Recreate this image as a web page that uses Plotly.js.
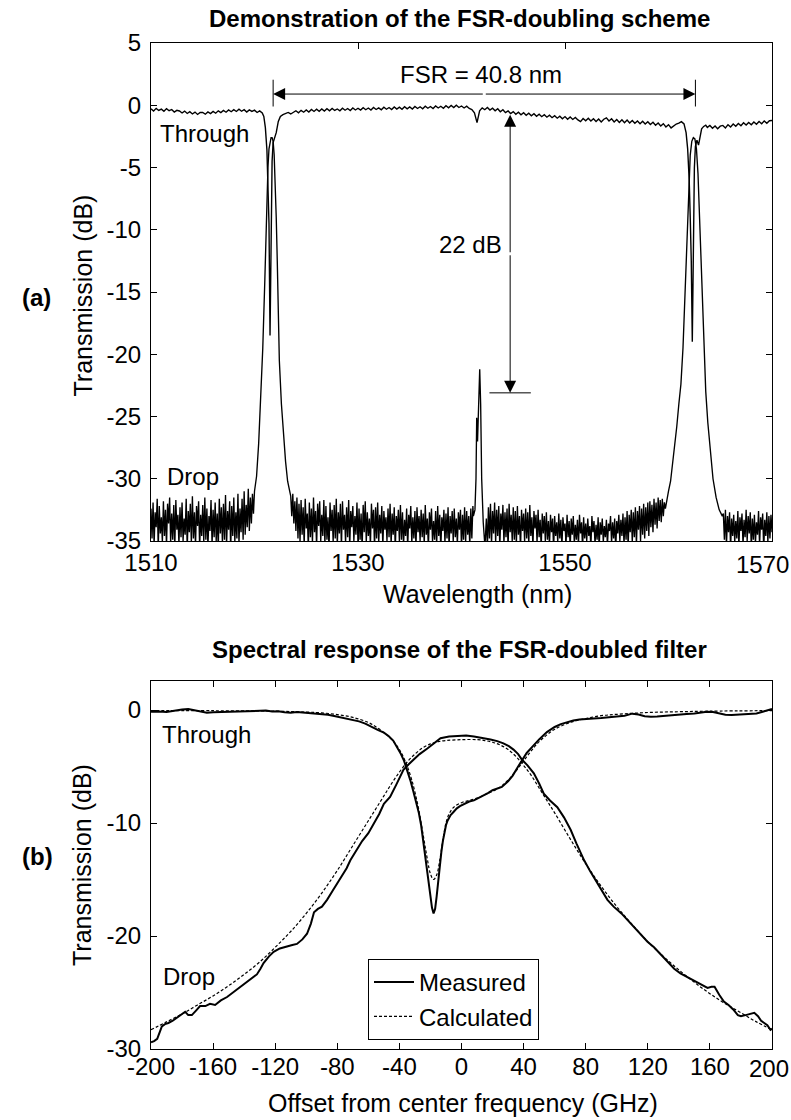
<!DOCTYPE html>
<html>
<head>
<meta charset="utf-8">
<script src="https://cdn.plot.ly/plotly-3.0.1.min.js"></script>
<style>html,body{margin:0;padding:0;background:#fff;}#chart{width:791px;height:1120px;}</style>
</head>
<body>
<div id="chart"></div>
<script>
// ---------------- DATA: panel (a) ----------------
// Through port (dB), 0.25 nm sampling in the flat regions
const throughA_start = 1510.0, throughA_step = 0.25;
const throughA = [-0.28,-0.46,-0.25,-0.42,-0.31,-0.49,-0.27,-0.44,-0.34,-0.55,-0.41,-0.46,-0.62,-0.47,-0.66,-0.52,-0.70,-0.55,-0.74,-0.58,-0.57,-0.72,-0.54,-0.67,-0.49,-0.64,-0.45,-0.59,-0.42,-0.56,-0.37,-0.52,-0.35,-0.50,-0.32,-0.48,-0.35,-0.54,-0.37,-0.49,-0.39,-0.58,-0.45,-0.62];
const throughNotch1_wl = [1520.9,1521.05,1521.2,1521.3,1521.4,1521.5,1521.6,1521.7,1521.8,1521.95,1522.1,1522.3,1522.5,1522.75,1523.0];
const throughNotch1_db = [-0.9,-1.8,-3.6,-6.0,-9.5,-18.5,-9.0,-4.5,-3.0,-2.6,-2.2,-1.3,-0.9,-0.75,-0.65];
const throughB_start = 1523.25, throughB_step = 0.25;
const throughB = [-0.58,-0.70,-0.56,-0.44,-0.60,-0.41,-0.56,-0.38,-0.54,-0.34,-0.50,-0.32,-0.48,-0.30,-0.46,-0.28,-0.44,-0.26,-0.42,-0.30,
-0.44,-0.24,-0.40,-0.26,-0.42,-0.22,-0.38,-0.24,-0.39,-0.20,-0.36,-0.22,-0.38,-0.18,-0.34,-0.21,-0.36,-0.16,-0.32,-0.18,
-0.34,-0.14,-0.31,-0.16,-0.32,-0.12,-0.29,-0.14,-0.30,-0.10,-0.26,-0.12,-0.28,-0.08,-0.24,-0.10,-0.26,-0.06,-0.22,-0.08,
-0.24,-0.04,-0.20,-0.02,-0.19,0.00,-0.18,-0.06,-0.22,-0.08,-0.26,-0.34,-0.60,-1.40,-0.45,-0.21,-0.36,-0.18,-0.39,-0.24,
-0.44,-0.28,-0.52,-0.36,-0.59,-0.46,-0.66,-0.51,-0.72,-0.56,-0.76,-0.60,-0.80,-0.64,-0.84,-0.68,-0.88,-0.72,-0.92,-0.76,
-0.96,-0.80,-1.00,-0.84,-1.04,-0.88,-1.08,-0.91,-1.12,-0.94,-1.14,-0.98,-1.18,-1.32,-1.06,-1.24,-1.04,-1.26,-1.08,-1.30,
-1.10,-1.34,-1.12,-1.01,-1.26,-1.08,-1.34,-1.14,-1.38,-1.16,-1.40,-1.18,-1.42,-1.22,-1.44,-1.26,-1.48,-1.28,-1.50,-1.32,
-1.54,-1.36,-1.60,-1.42,-1.66,-1.48,-1.74,-1.56,-1.82,-1.64,-1.51,-1.44,-1.32];
const throughNotch2_wl = [1561.5,1561.7,1561.85,1562.0,1562.1,1562.2,1562.3,1562.4,1562.5,1562.6,1562.75,1562.9,1563.05,1563.2,1563.4,1563.6];
const throughNotch2_db = [-1.5,-2.2,-3.5,-6.0,-9.0,-12.5,-19.0,-9.5,-5.0,-3.3,-2.8,-3.2,-2.4,-1.9,-1.7,-1.6];
const throughC_start = 1563.75, throughC_step = 0.25;
const throughC = [-1.78,-1.62,-1.84,-1.66,-1.88,-1.68,-1.62,-1.82,-1.56,-1.74,-1.51,-1.69,-1.46,-1.64,-1.41,-1.59,-1.38,-1.56,-1.34,-1.52,-1.31,-1.48,-1.26,-1.44,-1.24,-1.22];

// Drop port (dB), 0.1 nm sampling in the noise floor
const dropA_start = 1510.0, dropA_step = 0.1;
const dropA = [-32.4,-34.8,-31.9,-35.3,-32.7,-33.9,-31.6,-35.6,-32.2,-34.4,
-33.1,-35.1,-31.8,-34.6,-32.5,-35.4,-32.0,-33.6,-31.5,-35.2,
-32.8,-34.9,-32.1,-35.5,-31.7,-34.1,-32.9,-35.3,-32.3,-34.7,
-31.9,-35.0,-33.2,-34.5,-31.6,-35.7,-32.6,-34.3,-32.0,-35.2,
-31.4,-34.8,-32.7,-35.4,-32.2,-33.8,-31.8,-35.6,-32.9,-34.6,
-32.1,-35.1,-31.5,-34.9,-32.4,-35.5,-33.0,-34.2,-31.7,-35.3,
-32.5,-34.7,-31.9,-35.0,-32.8,-35.6,-31.6,-34.4,-32.3,-35.2,
-32.0,-34.9,-31.3,-35.4,-32.6,-34.1,-31.8,-35.7,-32.2,-34.6,
-31.5,-35.1,-32.7,-34.8,-31.2,-35.3,-32.4,-34.3,-31.6,-34.9,
-31.0,-34.5,-32.1,-33.9,-30.8,-34.2,-31.5,-33.6,-31.2,-32.8];
const dropPeak1_wl = [1520.0,1520.2,1520.4,1520.6,1520.8,1521.0,1521.1,1521.2,1521.3,1521.4,1521.5,1521.6,1521.7,1521.8,1521.9,1522.0,1522.1,1522.2,1522.4,1522.6,1522.8,1523.0,1523.2,1523.4];
const dropPeak1_db = [-31.0,-29.8,-27.2,-23.5,-19.5,-14.0,-10.5,-7.5,-5.0,-3.5,-2.8,-2.6,-2.6,-2.9,-4.0,-6.0,-9.0,-12.5,-20.5,-24.0,-26.8,-28.6,-30.2,-31.2];
const dropB_start = 1523.5, dropB_step = 0.1;
const dropB = [-31.4,-33.0,-31.2,-33.6,-31.8,-34.2,-31.5,-34.8,-32.0,-35.1,
-31.7,-34.5,-32.3,-35.4,-31.6,-34.0,-32.8,-35.6,-31.9,-34.7,
-32.4,-35.2,-31.5,-34.3,-32.6,-35.5,-32.0,-33.8,-31.8,-35.0,
-32.9,-34.6,-31.7,-35.3,-32.2,-34.9,-33.1,-35.7,-31.9,-34.2,
-32.5,-35.1,-32.1,-34.8,-31.6,-35.4,-32.7,-34.4,-32.0,-35.6,
-31.8,-34.1,-32.9,-35.2,-32.3,-34.7,-31.7,-35.5,-32.6,-33.9,
-32.2,-35.0,-33.0,-34.5,-31.9,-35.3,-32.4,-34.9,-32.8,-35.7,
-32.1,-34.3,-31.8,-35.1,-32.7,-34.6,-33.2,-35.4,-32.0,-34.0,
-32.5,-35.6,-32.3,-34.8,-31.9,-35.2,-32.9,-34.4,-32.2,-35.5,
-32.6,-34.1,-33.1,-35.0,-32.4,-34.7,-32.0,-35.3,-32.8,-34.5,
-32.3,-35.7,-33.0,-34.2,-32.5,-35.1,-32.1,-34.9,-32.7,-35.4,
-33.3,-34.6,-32.4,-35.6,-32.9,-34.0,-32.2,-35.2,-33.1,-34.8,
-32.6,-35.5,-32.3,-34.3,-33.0,-35.0,-32.5,-34.7,-32.8,-35.3,
-32.1,-34.5,-33.2,-35.6,-32.7,-34.1,-32.4,-35.1,-33.4,-34.9,
-32.6,-35.4,-32.2,-34.6,-32.9,-35.7,-33.1,-34.2,-32.5,-35.2,
-32.8,-34.8,-32.3,-35.5,-33.0,-34.4,-32.6,-35.0,-32.4,-34.7,
-33.2,-35.3,-32.7,-34.1,-32.5,-35.6,-32.9,-34.9,-32.3,-35.1,
-32.6,-34.5,-33.0,-35.4,-32.4,-34.8,-32.2];
const dropPeak3_wl = [1541.15,1541.3,1541.4,1541.47,1541.55,1541.65,1541.76,1541.85,1541.95,1542.1,1542.25];
const dropPeak3_db = [-33.0,-32.5,-30.0,-25.1,-27.0,-24.0,-21.2,-24.0,-30.0,-33.5,-35.3];
const dropC_start = 1542.3, dropC_step = 0.1;
const dropC = [-34.9,-33.2,-35.6,-32.3,-34.8,-32.0,-35.3,-32.6,-34.4,-31.9,
-35.1,-32.5,-34.6,-32.2,-35.5,-32.8,-34.1,-32.1,-35.2,-32.7,
-34.7,-32.4,-35.6,-32.0,-34.3,-32.9,-35.0,-32.3,-34.9,-32.6,
-35.4,-32.2,-34.5,-33.0,-35.7,-32.5,-34.2,-32.8,-35.1,-32.4,
-34.8,-32.7,-35.3,-32.1,-34.6,-33.1,-35.5,-32.6,-34.0,-32.9,
-35.2,-32.5,-34.7,-33.3,-35.6,-32.8,-34.4,-33.0,-35.0,-32.7,
-34.9,-33.4,-35.4,-32.9,-34.3,-33.2,-35.7,-33.0,-34.6,-33.5,
-35.1,-32.8,-34.8,-33.3,-35.5,-33.1,-34.2,-33.6,-35.3,-32.9,
-34.7,-33.4,-35.6,-33.2,-34.5,-33.0,-35.2,-33.7,-34.9,-33.3,
-35.4,-32.9,-34.4,-33.5,-35.7,-33.1,-34.8,-33.6,-35.0,-33.2,
-34.6,-33.8,-35.5,-33.0,-34.3,-33.4,-35.3,-33.7,-34.9,-33.1,
-35.6,-33.5,-34.5,-33.2,-35.1,-33.8,-34.7,-33.3,-35.4,-33.6,
-34.2,-33.0,-35.2,-33.5,-34.8,-33.2,-35.7,-33.4,-34.4,-32.9,
-35.0,-33.3,-34.6,-32.8,-35.3,-33.1,-34.9,-32.6,-35.5,-32.9,
-34.3,-32.5,-35.1,-32.7,-34.7,-32.3,-35.4,-32.6,-34.1,-32.2,
-35.0,-32.4,-34.5,-32.0,-34.8,-32.3,-34.2,-31.9,-34.6,-31.8,
-33.9,-32.1,-34.3,-31.6,-33.7,-31.9,-34.0,-31.5,-33.4,-31.7,
-33.5,-31.6,-33.0,-31.9,-32.4];
const dropPeak2_wl = [1559.8,1560.0,1560.2,1560.4,1560.6,1560.8,1561.0,1561.2,1561.4,1561.6,1561.8,1561.95,1562.1,1562.25,1562.4,1562.55,1562.7,1562.85,1563.0,1563.2,1563.4,1563.6,1563.8,1564.0,1564.3,1564.6,1564.9,1565.2];
const dropPeak2_db = [-31.8,-31.0,-30.2,-28.8,-27.4,-25.8,-24.0,-22.4,-19.5,-15.0,-10.0,-6.5,-4.0,-2.9,-2.6,-2.7,-3.5,-5.5,-9.0,-14.0,-19.5,-23.0,-25.5,-27.5,-30.0,-31.5,-32.5,-33.0];
const dropD_start = 1565.3, dropD_step = 0.1;
const dropD = [-32.8,-34.9,-32.5,-35.4,-33.0,-34.3,-32.7,-35.6,-33.2,-34.6,
-32.9,-35.1,-33.4,-34.8,-32.6,-35.5,-33.1,-34.2,-32.8,-35.3,
-33.3,-34.7,-32.5,-35.0,-33.0,-34.4,-32.7,-35.6,-33.2,-34.9,
-32.9,-35.2,-33.5,-34.5,-32.6,-35.4,-33.1,-34.1,-32.8,-35.7,
-33.3,-34.6,-32.7,-35.1,-33.0,-34.8,-32.9,-34.3];

// Panel (a) annotations (data units)
const fsrLeft = 1521.8, fsrRight = 1562.6, fsrLevel = 0.9, fsrText = 'FSR = 40.8 nm';
const extWl = 1544.7, extTop = -0.76, extBottom = -23.1, extText = '22 dB';

// ---------------- DATA: panel (b) ----------------
const measThrough_f = [-200,-195,-190,-185,-180,-176,-172,-168,-164,-160,-155,-150,-145,-140,-135,-130,-126,-122,-118,-114,-110,-106,-102,-98,-94,-90,-86,-82,-78,-74,-70,-66,-62,-58,-54,-50,-47,-44,-41.5,-39,-37,-35,-33,-31,-29.5,-27.5,-26,-24.5,-23,-21.5,-20,-19,-18,-17,-16,-15,-14,-13,-12,-11,-10,-9,-7,-5,-3,-1,2,5,8,11,14,17,20,23,26,30,33,36,39,42,46,50,55,60,64,68,72,76,80,85,90,95,100,105,110,114,118,122,126,130,135,140,145,150,155,158,162,166,170,174,178,182,186,190,194,197,200];
const measThrough_db = [-0.15,-0.12,-0.18,-0.05,0.05,0.08,-0.02,-0.15,-0.24,-0.20,-0.18,-0.15,-0.16,-0.12,-0.14,-0.08,-0.05,-0.12,-0.10,-0.20,-0.24,-0.18,-0.22,-0.26,-0.30,-0.32,-0.42,-0.52,-0.65,-0.78,-0.88,-1.00,-1.20,-1.50,-1.75,-2.00,-2.30,-2.70,-3.25,-3.90,-4.50,-5.30,-6.20,-7.20,-8.00,-9.10,-10.2,-11.8,-13.3,-15.0,-16.5,-17.5,-18.0,-17.6,-16.5,-15.0,-13.8,-12.6,-11.6,-10.8,-10.2,-9.8,-9.3,-9.0,-8.7,-8.5,-8.3,-8.1,-8.0,-7.8,-7.6,-7.35,-7.1,-6.95,-6.8,-6.3,-5.8,-5.1,-4.4,-3.8,-3.2,-2.6,-1.95,-1.5,-1.25,-1.05,-0.92,-0.84,-0.78,-0.74,-0.70,-0.62,-0.55,-0.50,-0.32,-0.40,-0.55,-0.60,-0.58,-0.52,-0.48,-0.42,-0.35,-0.30,-0.22,-0.15,-0.18,-0.30,-0.42,-0.45,-0.40,-0.36,-0.36,-0.30,-0.15,-0.05,0.10];
const calcThrough_f = [-200,-160,-120,-100,-90,-80,-70,-60,-55,-50,-45,-40,-36,-32,-28,-25,-22,-20,-18,-16,-14,-12,-10,-8,-5,0,5,10,15,20,25,30,35,40,45,50,55,60,70,80,90,100,120,140,160,200];
const calcThrough_db = [-0.05,-0.06,-0.10,-0.18,-0.25,-0.40,-0.65,-1.10,-1.50,-2.00,-2.60,-3.50,-4.60,-6.20,-8.50,-10.8,-13.2,-14.5,-15.0,-14.6,-13.3,-11.5,-10.0,-9.2,-8.6,-8.2,-8.0,-7.8,-7.5,-7.2,-6.8,-6.2,-5.4,-4.5,-3.6,-2.8,-2.2,-1.7,-1.1,-0.75,-0.50,-0.38,-0.22,-0.15,-0.10,-0.05];
const measDrop_f = [-200,-198,-196,-194.5,-193,-191,-188.8,-186,-183,-180,-178,-176,-173.7,-171,-168.4,-165,-162,-158.7,-155,-151,-147,-142.6,-138,-134,-131.8,-129.5,-127.5,-124,-121,-117,-112.4,-109,-106,-102.5,-99.5,-97,-95,-92.5,-89.9,-86.6,-83,-80,-77,-74,-71.6,-68,-64,-60,-57,-53,-50,-46,-42,-39,-37.4,-34,-31,-27,-22,-18,-13.5,-8,-2.8,3,8,13,18.7,23,27,30.5,33.5,36.5,39,42.5,46.6,50,53,57,61.7,66,70.3,74,79,83,87,90.5,94,98,103,107,111,115.5,119.8,124,128,132.7,137,141,145,149.7,154,158.5,161,163,166,169,172,175,178,180,183,186,188.6,191,193,195,197,199,200];
const measDrop_db = [-29.4,-29.3,-29.1,-28.6,-28.0,-27.8,-27.7,-27.5,-27.2,-26.9,-26.7,-27.0,-27.0,-26.6,-26.2,-26.2,-26.0,-26.1,-25.7,-25.4,-25.0,-24.5,-24.1,-23.7,-23.4,-22.9,-22.4,-21.8,-21.4,-21.1,-20.9,-20.8,-20.7,-20.3,-19.8,-18.9,-17.9,-17.6,-17.4,-16.8,-16.0,-15.3,-14.6,-14.0,-13.3,-12.5,-11.6,-10.9,-10.2,-9.2,-8.3,-7.7,-6.6,-5.8,-5.3,-4.8,-4.4,-3.9,-3.4,-2.95,-2.5,-2.35,-2.3,-2.25,-2.35,-2.45,-2.6,-2.75,-2.95,-3.2,-3.5,-3.9,-4.4,-4.9,-5.6,-6.5,-7.4,-8.0,-8.6,-9.5,-10.6,-11.8,-13.3,-14.3,-15.2,-16.0,-16.8,-17.4,-18.0,-18.6,-19.2,-19.9,-20.5,-21.0,-21.6,-22.3,-22.9,-23.3,-23.6,-24.0,-24.3,-24.6,-24.5,-24.5,-25.2,-25.8,-26.1,-26.5,-27.0,-27.1,-27.0,-26.9,-26.8,-27.1,-27.5,-27.7,-27.9,-28.3,-28.2];
const calcDrop_f = [-200,-190,-180,-170,-160,-150,-140,-130,-120,-110,-100,-90,-80,-70,-60,-50,-45,-40,-35,-30,-25,-20,-15,-10,0,10,15,20,25,30,35,40,45,50,55,60,70,80,90,100,110,120,130,140,150,160,170,180,190,200];
const calcDrop_db = [-28.3,-27.6,-26.9,-26.1,-25.3,-24.4,-23.4,-22.3,-21.0,-19.6,-18.0,-16.2,-14.2,-12.0,-9.8,-7.6,-6.5,-5.5,-4.6,-3.9,-3.35,-3.0,-2.8,-2.7,-2.62,-2.62,-2.7,-2.85,-3.1,-3.5,-4.1,-4.9,-5.8,-6.9,-8.0,-9.1,-11.4,-13.6,-15.6,-17.4,-19.0,-20.5,-21.8,-23.0,-24.1,-25.1,-26.0,-26.8,-27.6,-28.3];

// Tick labels
const xTicksA = [1510,1530,1550,1570];
const yTicksA = [5,0,-5,-10,-15,-20,-25,-30,-35];
const xTicksB = [-200,-160,-120,-80,-40,0,40,80,120,160,200];
const yTicksB = [0,-10,-20,-30];
const label = v => String(v); // plain hyphen-minus, as in the original
// The last label of each x axis is set flush with the figure's right edge (as in the original),
// so it is written as a right-anchored text instead of a centred tick label.
const lastA = xTicksA[xTicksA.length - 1], lastB = xTicksB[xTicksB.length - 1];
const xLabelsA = xTicksA.map(v => v === lastA ? '' : label(v));
const xLabelsB = xTicksB.map(v => v === lastB ? '' : label(v));

// ---------------- BUILD ----------------
function grid(start, step, vals) { return vals.map((_, i) => +(start + i * step).toFixed(3)); }
const thX = [].concat(grid(throughA_start, throughA_step, throughA), throughNotch1_wl, grid(throughB_start, throughB_step, throughB), throughNotch2_wl, grid(throughC_start, throughC_step, throughC));
const thY = [].concat(throughA, throughNotch1_db, throughB, throughNotch2_db, throughC);
const drX = [].concat(grid(dropA_start, dropA_step, dropA), dropPeak1_wl, grid(dropB_start, dropB_step, dropB), dropPeak3_wl, grid(dropC_start, dropC_step, dropC), dropPeak2_wl, grid(dropD_start, dropD_step, dropD));
const drY = [].concat(dropA, dropPeak1_db, dropB, dropPeak3_db, dropC, dropPeak2_db, dropD);

const FONT = 'Liberation Sans, Arial, Helvetica, sans-serif';
const FS = 24, FT = 25;
const K = '#000';

const traces = [
  {x: thX, y: thY, xaxis: 'x', yaxis: 'y', mode: 'lines', line: {color: K, width: 1.4}, showlegend: false, hoverinfo: 'skip'},
  {x: drX, y: drY, xaxis: 'x', yaxis: 'y', mode: 'lines', line: {color: K, width: 1.35}, showlegend: false, hoverinfo: 'skip'},
  {x: calcThrough_f, y: calcThrough_db, xaxis: 'x2', yaxis: 'y2', mode: 'lines', name: 'Calculated', legendrank: 2, line: {color: K, width: 1.2, dash: '3px,2px', shape: 'spline'}},
  {x: calcDrop_f, y: calcDrop_db, xaxis: 'x2', yaxis: 'y2', mode: 'lines', showlegend: false, line: {color: K, width: 1.2, dash: '3px,2px', shape: 'spline'}},
  {x: measThrough_f, y: measThrough_db, xaxis: 'x2', yaxis: 'y2', mode: 'lines', name: 'Measured', legendrank: 1, line: {color: K, width: 2}},
  {x: measDrop_f, y: measDrop_db, xaxis: 'x2', yaxis: 'y2', mode: 'lines', showlegend: false, line: {color: K, width: 2}}
];

const W = 791, H = 1120;
const px = v => v / W, py = v => 1 - v / H;
const axisCommon = {showline: true, linecolor: K, linewidth: 1, mirror: 'ticks', ticks: 'inside', ticklen: 6, tickcolor: K, tickwidth: 1, showgrid: false, zeroline: false, tickfont: {family: FONT, size: FS, color: K}, tickmode: 'array', fixedrange: true};

const layout = {
  width: W, height: H,
  margin: {l: 0, r: 0, t: 0, b: 0},
  paper_bgcolor: '#fff', plot_bgcolor: '#fff',
  font: {family: FONT, size: FS, color: K},
  showlegend: true,
  legend: {x: px(368), y: py(999.5), xanchor: 'left', yanchor: 'middle', bordercolor: K, borderwidth: 1, bgcolor: '#fff', font: {family: FONT, size: FS, color: K}, traceorder: 'normal', tracegroupgap: 0, itemwidth: 40},
  xaxis: Object.assign({}, axisCommon, {domain: [px(151), px(772)], range: [1510, 1570], anchor: 'y', tickvals: xTicksA, ticktext: xLabelsA, ticklabelstandoff: 1.5}),
  yaxis: Object.assign({}, axisCommon, {domain: [py(541), py(43)], range: [-35, 5], anchor: 'x', tickvals: yTicksA, ticktext: yTicksA.map(label), ticklabelstandoff: 4}),
  xaxis2: Object.assign({}, axisCommon, {domain: [px(151), px(772)], range: [-200, 200], anchor: 'y2', tickvals: xTicksB, ticktext: xLabelsB, ticklabelstandoff: -4}),
  yaxis2: Object.assign({}, axisCommon, {domain: [py(1049), py(681)], range: [-30, 2.57], anchor: 'x2', tickvals: yTicksB, ticktext: yTicksB.map(label), ticklabelstandoff: 4}),
  shapes: [
    {type: 'line', xref: 'x', yref: 'y', x0: fsrLeft, x1: fsrLeft, y0: -0.1, y1: 2.05, line: {color: K, width: 1}},
    {type: 'line', xref: 'x', yref: 'y', x0: fsrRight, x1: fsrRight, y0: -0.1, y1: 2.05, line: {color: K, width: 1}},
    {type: 'line', xref: 'x', yref: 'y', x0: extWl - 2.0, x1: extWl + 2.0, y0: extBottom, y1: extBottom, line: {color: K, width: 1}}
  ],
  annotations: [
    // titles
    {xref: 'paper', yref: 'paper', x: px(459), y: py(18.5), text: '<b>Demonstration of the FSR-doubling scheme</b>', showarrow: false, xanchor: 'center', yanchor: 'middle', font: {family: FONT, size: FS, color: K}},
    {xref: 'paper', yref: 'paper', x: px(459), y: py(649.5), text: '<b>Spectral response of the FSR-doubled filter</b>', showarrow: false, xanchor: 'center', yanchor: 'middle', font: {family: FONT, size: FS, color: K}},
    // axis titles
    {xref: 'paper', yref: 'paper', x: px(477), y: py(594.5), text: 'Wavelength (nm)', showarrow: false, xanchor: 'center', yanchor: 'middle', font: {family: FONT, size: FT, color: K}},
    {xref: 'paper', yref: 'paper', x: px(463), y: py(1103), text: 'Offset from center frequency (GHz)', showarrow: false, xanchor: 'center', yanchor: 'middle', font: {family: FONT, size: FT, color: K}},
    {xref: 'paper', yref: 'paper', x: px(82), y: py(295.5), text: 'Transmission (dB)', textangle: -90, showarrow: false, xanchor: 'center', yanchor: 'middle', font: {family: FONT, size: FT, color: K}},
    {xref: 'paper', yref: 'paper', x: px(82), y: py(865), text: 'Transmission (dB)', textangle: -90, showarrow: false, xanchor: 'center', yanchor: 'middle', font: {family: FONT, size: FT, color: K}},
    // last x tick labels, flush right
    {xref: 'paper', yref: 'paper', x: px(790), y: py(564), text: label(lastA), showarrow: false, xanchor: 'right', yanchor: 'middle', borderpad: 0},
    {xref: 'paper', yref: 'paper', x: px(790), y: py(1068.5), text: label(lastB), showarrow: false, xanchor: 'right', yanchor: 'middle', borderpad: 0},
    // panel labels
    {xref: 'paper', yref: 'paper', x: px(20), y: py(297), text: '<b>(a)</b>', showarrow: false, xanchor: 'left', yanchor: 'middle'},
    {xref: 'paper', yref: 'paper', x: px(20), y: py(857), text: '<b>(b)</b>', showarrow: false, xanchor: 'left', yanchor: 'middle'},
    // in-plot labels (a)
    {xref: 'x', yref: 'y', x: 1510.7, y: -2.23, text: 'Through', showarrow: false, xanchor: 'left', yanchor: 'middle'},
    {xref: 'x', yref: 'y', x: 1511.4, y: -29.82, text: 'Drop', showarrow: false, xanchor: 'left', yanchor: 'middle'},
    {xref: 'x', yref: 'y', x: (fsrLeft + fsrRight) / 2 - 0.3, y: 2.5, text: fsrText, showarrow: false, xanchor: 'center', yanchor: 'middle'},
    {xref: 'x', yref: 'y', x: 1544.1, y: -11.17, text: extText, showarrow: false, xanchor: 'right', yanchor: 'middle'},
    // arrows (a)
    {xref: 'x', yref: 'y', axref: 'x', ayref: 'y', x: fsrLeft, y: fsrLevel, ax: (fsrLeft + fsrRight) / 2, ay: fsrLevel, text: '', showarrow: true, arrowhead: 2, arrowsize: 2.4, arrowwidth: 1, arrowcolor: K},
    {xref: 'x', yref: 'y', axref: 'x', ayref: 'y', x: fsrRight, y: fsrLevel, ax: (fsrLeft + fsrRight) / 2, ay: fsrLevel, text: '', showarrow: true, arrowhead: 2, arrowsize: 2.4, arrowwidth: 1, arrowcolor: K},
    {xref: 'x', yref: 'y', axref: 'x', ayref: 'y', x: extWl, y: extTop, ax: extWl, ay: (extTop + extBottom) / 2, text: '', showarrow: true, arrowhead: 2, arrowsize: 2.4, arrowwidth: 1, arrowcolor: K},
    {xref: 'x', yref: 'y', axref: 'x', ayref: 'y', x: extWl, y: extBottom, ax: extWl, ay: (extTop + extBottom) / 2, text: '', showarrow: true, arrowhead: 2, arrowsize: 2.4, arrowwidth: 1, arrowcolor: K},
    // in-plot labels (b)
    {xref: 'x2', yref: 'y2', x: -194.5, y: -2.2, text: 'Through', showarrow: false, xanchor: 'left', yanchor: 'middle'},
    {xref: 'x2', yref: 'y2', x: -193.5, y: -23.6, text: 'Drop', showarrow: false, xanchor: 'left', yanchor: 'middle'}
  ]
};

Plotly.newPlot('chart', traces, layout, {displayModeBar: false, staticPlot: true});
</script>
</body>
</html>
